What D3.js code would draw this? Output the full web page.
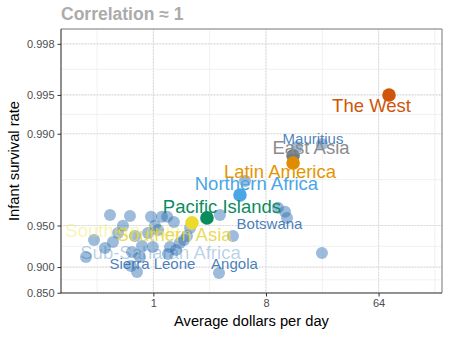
<!DOCTYPE html>
<html><head><meta charset="utf-8">
<script src="https://cdn.jsdelivr.net/npm/d3@7"></script>
<style>
body{margin:0;background:#fff}
svg{display:block}
text{font-family:"Liberation Sans",Arial,Helvetica,sans-serif}
</style>
</head><body><svg id="c" width="449" height="337"></svg>
<script>
// ---- data ----
const titleText = "Correlation \u2248 1";
const xTitle = "Average dollars per day";
const yTitle = "Infant survival rate";
const xLimits = [0.25, 150];
const yLimits = [0.875, 0.9981];
const xBreaks = [1, 8, 64];
const xBreakLabels = ["1", "8", "64"];
const yBreaks = [0.85, 0.90, 0.95, 0.99, 0.995, 0.998];
const yBreakLabels = ["0.850", "0.900", "0.950", "0.990", "0.995", "0.998"];

// Sub-Saharan African countries (and a few others), dollars per day / infant survival
const countryIncome   = [0.288,0.334,0.409,0.449,0.474,0.520,0.570,0.649,0.661,0.674,0.712,0.739,0.781,0.810,0.905,0.957,0.99,1.03,1.09,1.17,1.29,1.31,1.36,1.46,1.52,1.63,1.76,1.86,1.97,3.36,3.42,4.35,5.43,9.99,11.37,11.80,14.18,22.5,22.5];
const countrySurvival = [0.9152,0.9361,0.9269,0.9583,0.9339,0.9432,0.9497,0.9576,0.9018,0.9219,0.9403,0.8918,0.9152,0.9294,0.9432,0.9569,0.9282,0.9497,0.9461,0.9569,0.9569,0.9193,0.9282,0.9530,0.9245,0.9328,0.9361,0.9403,0.9479,0.8901,0.9583,0.9403,0.9769,0.9631,0.9605,0.9561,0.98736,0.9206,0.98801];

const regionNames    = ["East Asia","Latin America","Northern Africa","Pacific Islands","Southern Asia","The West"];
const regionIncome   = [13.2, 13.2, 4.95, 2.69, 2.04, 77.6];
const regionSurvival = [0.9852, 0.9832, 0.9705, 0.9561, 0.9522, 0.995];
const regionColors   = ["#6f7c8a","#e08c00","#4aa6e4","#0b8c5e","#ecdb2e","#cf5608"];

const labelTexts    = ["Sub-Saharan Africa","Southern Asia","Southern Asia","Sierra Leone","Angola","Botswana","Pacific Islands","Northern Africa","Latin America","East Asia","Mauritius","The West"];
const labelIncome   = [1.14, 0.570, 1.463, 0.983, 4.47, 8.54, 3.55, 6.71, 10.36, 18.37, 19.07, 56.2];
const labelSurvival = [0.92107, 0.94541, 0.94159, 0.90585, 0.90585, 0.95185, 0.96390, 0.97584, 0.98040, 0.98720, 0.98914, 0.99395];
const labelColors   = ["#1f6fb5","#F0E442","#e6d53a","#2f6db0","#2f6db0","#2f6db0","#0b8c5e","#4aa6e4","#e69500","#8c8c8c","#2f6db0","#cf5608"];
const labelOpacity  = [0.32, 0.4, 0.85, 0.88, 0.88, 0.88, 1, 1, 1, 1, 0.85, 1];
const labelSizes    = [18.5, 18.5, 18.5, 15, 15, 15, 18.5, 18.5, 18.5, 18.5, 15, 18.5];

// ---- layout ----
const svg = d3.select("#c");
const L = 61, R = 442, T = 29, B = 293;
const logit = p => Math.log(p / (1 - p));

const lx0 = Math.log2(xLimits[0]), lx1 = Math.log2(xLimits[1]), ex = 0.05 * (lx1 - lx0);
const x = d3.scaleLog().base(2).domain([Math.pow(2, lx0 - ex), Math.pow(2, lx1 + ex)]).range([L, R]);
const ly0 = logit(yLimits[0]), ly1 = logit(yLimits[1]), ey = 0.05 * (ly1 - ly0);
const yL = d3.scaleLinear().domain([ly0 - ey, ly1 + ey]).range([B, T]);
const y = p => yL(logit(p));

// grid
const g = svg.append("g");
const xMajorL = xBreaks.map(Math.log2);
const xMinor = [];
for (let i = 0; i < xMajorL.length - 1; i++) xMinor.push(Math.pow(2, (xMajorL[i] + xMajorL[i+1]) / 2));
const step = xMajorL[1] - xMajorL[0];
xMinor.unshift(Math.pow(2, xMajorL[0] - step / 2));
xMinor.push(Math.pow(2, xMajorL[xMajorL.length-1] + step / 2));
const yMajorL = yBreaks.map(logit);
const yMinorL = [];
for (let i = 0; i < yMajorL.length - 1; i++) yMinorL.push((yMajorL[i] + yMajorL[i+1]) / 2);

g.selectAll(".vmin").data(xMinor.filter(v => x(v) > L && x(v) < R)).join("line")
  .attr("x1", d => x(d)).attr("x2", d => x(d)).attr("y1", T).attr("y2", B)
  .attr("stroke", "#ececec").attr("stroke-width", 0.8);
g.selectAll(".hmin").data(yMinorL).join("line")
  .attr("y1", d => yL(d)).attr("y2", d => yL(d)).attr("x1", L).attr("x2", R)
  .attr("stroke", "#ececec").attr("stroke-width", 0.8);
[["#ebebeb", 1.2, null], ["#d2d2d2", 0.8, "1,2"]].forEach(([c, w, da]) => {
  g.append("g").selectAll("line").data(xBreaks).join("line")
    .attr("x1", d => x(d)).attr("x2", d => x(d)).attr("y1", T).attr("y2", B)
    .attr("stroke", c).attr("stroke-width", w).attr("stroke-dasharray", da);
  g.append("g").selectAll("line").data(yMajorL).join("line")
    .attr("y1", d => yL(d)).attr("y2", d => yL(d)).attr("x1", L).attr("x2", R)
    .attr("stroke", c).attr("stroke-width", w).attr("stroke-dasharray", da);
});

// country points
svg.append("g").selectAll("circle").data(countryIncome).join("circle")
  .attr("cx", d => x(d)).attr("cy", (d, i) => y(countrySurvival[i])).attr("r", 6)
  .attr("fill", "#2f6fb0").attr("fill-opacity", 0.47);

// region points
svg.append("g").selectAll("circle").data(regionIncome).join("circle")
  .attr("cx", d => x(d)).attr("cy", (d, i) => y(regionSurvival[i])).attr("r", 6.8)
  .attr("fill", (d, i) => regionColors[i]);

// labels
svg.append("g").selectAll("text").data(labelTexts).join("text")
  .attr("x", (d, i) => x(labelIncome[i])).attr("y", (d, i) => y(labelSurvival[i]))
  .attr("dy", "0.35em").attr("text-anchor", "middle")
  .attr("font-size", (d, i) => labelSizes[i])
  .attr("fill", (d, i) => labelColors[i]).attr("fill-opacity", (d, i) => labelOpacity[i])
  .text(d => d);

// panel border (top/right)
svg.append("path").attr("d", `M${L},${T}H${R}V${B}`).attr("fill", "none").attr("stroke", "#777").attr("stroke-width", 1);

// axes
const ax = svg.append("g").attr("transform", `translate(0,${B})`)
  .call(d3.axisBottom(x).tickValues(xBreaks).tickFormat((d, i) => xBreakLabels[i]).tickSize(3.5).tickPadding(3));
const ay = svg.append("g").attr("transform", `translate(${L},0)`)
  .call(d3.axisLeft(yL).tickValues(yMajorL).tickFormat((d, i) => yBreakLabels[i]).tickSize(3.5).tickPadding(3));
[ax, ay].forEach(a => {
  a.select(".domain").attr("stroke", "#333").attr("stroke-width", 1.1);
  a.selectAll(".tick line").attr("stroke", "#333");
  a.selectAll(".tick text").attr("font-size", 11).attr("fill", "#4d4d4d")
    .attr("font-family", '"Liberation Sans",Arial,sans-serif');
});
ax.select(".domain").attr("d", `M${L},0H${R}`);
ay.select(".domain").attr("d", `M0,${T}V${B}`);

// titles
svg.append("text").attr("x", L).attr("y", 20).attr("font-size", 17.5).attr("font-weight", "bold")
  .attr("fill", "#ababab").text(titleText);
svg.append("text").attr("x", (L + R) / 2).attr("y", 326).attr("text-anchor", "middle")
  .attr("font-size", 14.7).attr("fill", "#000").text(xTitle);
svg.append("text").attr("transform", `translate(19,${(T + B) / 2}) rotate(-90)`).attr("text-anchor", "middle")
  .attr("font-size", 14.7).attr("fill", "#000").text(yTitle);
</script>
</body></html>
